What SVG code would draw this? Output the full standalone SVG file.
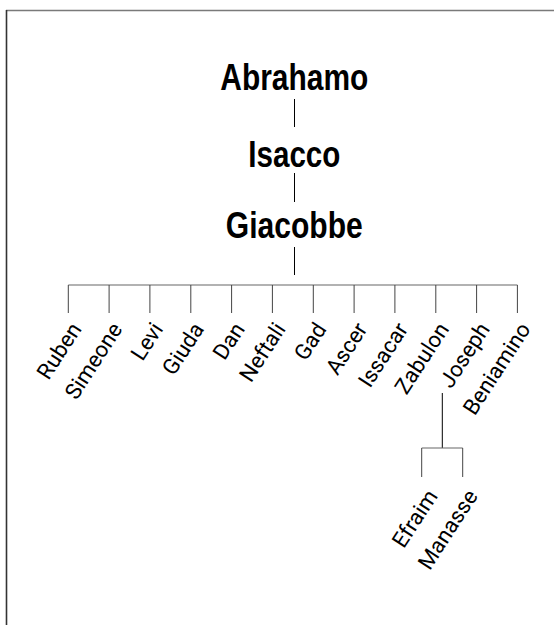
<svg xmlns="http://www.w3.org/2000/svg" width="554" height="625" viewBox="0 0 554 625">
<style>
.t{font-family:"Liberation Sans Narrow","Liberation Sans",Arial,sans-serif;font-weight:bold;font-size:36px;fill:#000;text-anchor:middle}
.c{font-family:Roboto,"Liberation Sans",Arial,sans-serif;font-size:22px;fill:#000;text-anchor:end}
.k{stroke:#000;stroke-width:1;fill:none}
.g{stroke:#666;stroke-width:1.2;fill:none}
.d{stroke:#444;stroke-width:1;fill:none}
</style>
<rect width="554" height="625" fill="#fff"/>
<g id="frame">
<line x1="6" y1="10.5" x2="554" y2="10.5" stroke="#7a7a7a" stroke-width="1.6"/>
<line x1="6.5" y1="10" x2="6.5" y2="625" stroke="#333" stroke-width="1.6"/>
</g>
<g id="connectors">
<line class="k" x1="294.5" y1="99" x2="294.5" y2="127"/>
<line class="k" x1="294.5" y1="173" x2="294.5" y2="202"/>
<line class="k" x1="294.5" y1="247" x2="294.5" y2="275"/>
<line class="g" x1="68.3" y1="285" x2="517.4" y2="285"/>
<path class="d" d="M68.3 285V313M109.1 285V313M149.9 285V313M190.8 285V313M231.6 285V313M272.4 285V313M313.3 285V313M354.1 285V313M394.9 285V313M435.8 285V313M476.6 285V313M517.4 285V313"/>
<line class="k" x1="442.3" y1="393" x2="442.3" y2="448"/>
<line class="g" x1="421.7" y1="448" x2="462.7" y2="448"/>
<path class="d" d="M421.7 448V477M462.7 448V477"/>
</g>
<g id="n-abrahamo"><text class="t" x="294.3" y="90" textLength="148" lengthAdjust="spacingAndGlyphs">Abrahamo</text></g>
<g id="n-isacco"><text class="t" x="294.3" y="166.5" textLength="92" lengthAdjust="spacingAndGlyphs">Isacco</text></g>
<g id="n-giacobbe"><text class="t" x="294.3" y="238" textLength="137" lengthAdjust="spacingAndGlyphs">Giacobbe</text></g>
<g id="n-ruben"><text class="c" transform="translate(82.3,329) rotate(-57)">Ruben</text></g>
<g id="n-simeone"><text class="c" transform="translate(123.1,329) rotate(-57)">Simeone</text></g>
<g id="n-levi"><text class="c" transform="translate(163.9,329) rotate(-57)">Levi</text></g>
<g id="n-giuda"><text class="c" transform="translate(204.8,329) rotate(-57)">Giuda</text></g>
<g id="n-dan"><text class="c" transform="translate(245.6,329) rotate(-57)">Dan</text></g>
<g id="n-neftali"><text class="c" transform="translate(286.4,329) rotate(-57)">Neftali</text></g>
<g id="n-gad"><text class="c" transform="translate(327.3,329) rotate(-57)">Gad</text></g>
<g id="n-ascer"><text class="c" transform="translate(368.1,329) rotate(-57)">Ascer</text></g>
<g id="n-issacar"><text class="c" transform="translate(408.9,329) rotate(-57)">Issacar</text></g>
<g id="n-zabulon"><text class="c" transform="translate(449.8,329) rotate(-57)">Zabulon</text></g>
<g id="n-joseph"><text class="c" transform="translate(490.6,329) rotate(-57)">Joseph</text></g>
<g id="n-beniamino"><text class="c" transform="translate(531.4,329) rotate(-57)">Beniamino</text></g>
<g id="n-efraim"><text class="c" transform="translate(438.5,496) rotate(-57)">Efraim</text></g>
<g id="n-manasse"><text class="c" transform="translate(478.5,496) rotate(-57)">Manasse</text></g>
</svg>
